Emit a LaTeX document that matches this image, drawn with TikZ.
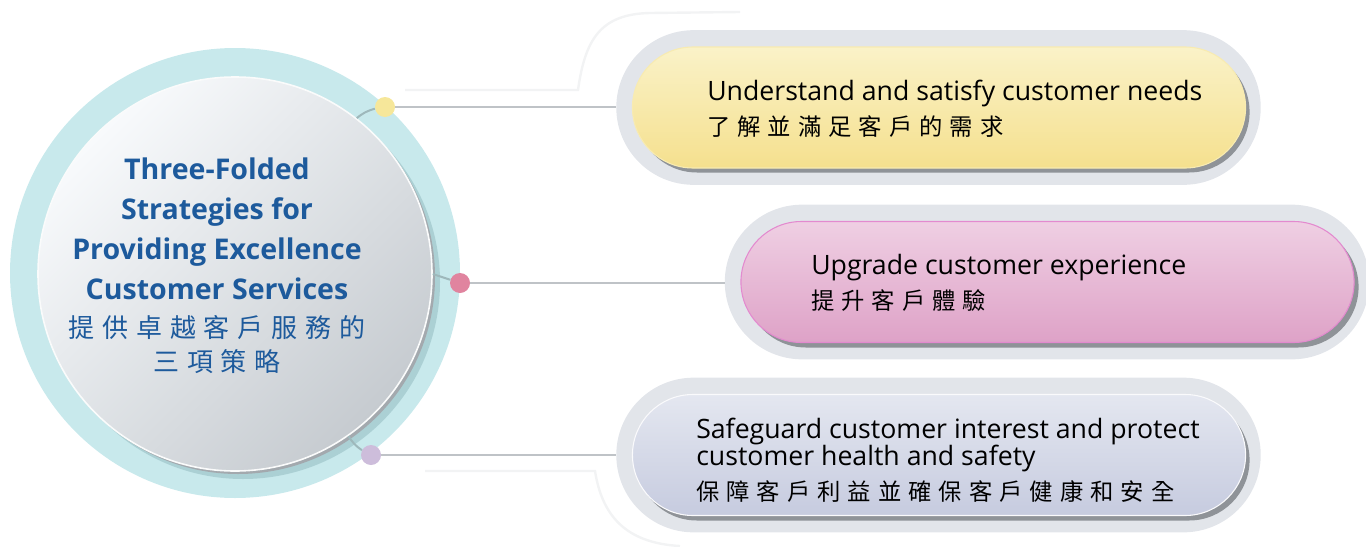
\documentclass[tikz,border=0pt]{standalone}
\usepackage{fontspec}
\setmainfont{Open Sans}
\newfontfamily\cjk[LetterSpace=30]{Noto Sans CJK TC}
\usetikzlibrary{shapes.misc,positioning}

\definecolor{ringteal}{HTML}{C8E9EC}
\definecolor{ringshade}{HTML}{ABD0D4}
\definecolor{hubtop}{HTML}{F8FAFC}
\definecolor{hubbot}{HTML}{C6CBD0}
\definecolor{hubrim}{HTML}{A3A9AE}
\definecolor{titleblue}{HTML}{1D5A9C}
\definecolor{halogray}{HTML}{E2E5EA}
\definecolor{shadowgray}{HTML}{8F9398}
\definecolor{linkgray}{HTML}{BFC3C7}
\definecolor{faintgray}{HTML}{F2F3F4}
\definecolor{dotyellow}{HTML}{F6E79A}
\definecolor{dotpink}{HTML}{E0849F}
\definecolor{dotlilac}{HTML}{CDBDDB}
\definecolor{yellowtop}{HTML}{FAF2C8}
\definecolor{yellowbot}{HTML}{F5E08E}
\definecolor{pinktop}{HTML}{EFCFE3}
\definecolor{pinkbot}{HTML}{DEA2C7}
\definecolor{lilactop}{HTML}{E4E7F0}
\definecolor{lilacbot}{HTML}{C6CBDF}

\begin{document}
\begin{tikzpicture}[x=0.75pt,y=-0.75pt,
    halo/.style={rounded rectangle, fill=halogray, minimum width=490pt, minimum height=116pt},
    pillshadow/.style={rounded rectangle, fill=shadowgray, minimum width=466.5pt, minimum height=90.75pt},
    pill/.style={rounded rectangle, minimum width=466.5pt, minimum height=90.75pt, line width=0.8pt},
    dot/.style={circle, minimum size=15pt, inner sep=0pt},
    link/.style={linkgray, line width=1.8pt},
    stub/.style={ringshade!70!gray, line width=1.5pt},
    faint/.style={faintgray, line width=1.8pt},
    boxtext/.style={anchor=west, align=left, font=\fontsize{20}{20.25}\selectfont, inner sep=0pt}
  ]
  \useasboundingbox (0,0) rectangle (1366,546);

  % faint guide lines
  \draw[faint] (405,90) -- (578,90) .. controls (585,40) and (600,14) .. (650,13) -- (740,12);
  \draw[faint] (425,471) -- (595,471) .. controls (602,515) and (625,543) .. (680,546);

  % hub
  \node[circle, fill=ringteal, minimum size=337.5pt, inner sep=0pt] (ring) at (235,273) {};
  \node[circle, fill=ringshade, minimum size=295.5pt, inner sep=0pt] at (243,282) {};
  \node[circle, fill=hubrim, minimum size=295.5pt, inner sep=0pt] at (238,277) {};
  \node[circle, draw=white!92!hubbot, line width=1.2pt, top color=hubtop, bottom color=hubbot,
        shading angle=45, minimum size=295.5pt, inner sep=0pt] (core) at (235,274) {};
  \node[align=center, text=titleblue, font=\bfseries\fontsize{21.4}{30}\selectfont] (ttl) at (217,266)
    {Three-Folded\\Strategies for\\Providing Excellence\\Customer Services\\[-2pt]
     {\cjk\mdseries\fontsize{19.5}{26}\selectfont 提供卓越客戶服務的}\\[-4pt]
     {\cjk\mdseries\fontsize{19.5}{26}\selectfont 三項策略}};

  % boxes
  \node[halo] (haloA) at (938.5,107.5) {};
  \node[halo] (haloB) at (1047,282) {};
  \node[halo] (haloC) at (938.5,455) {};
  \node[pillshadow] at (943,112) {};
  \node[pillshadow] at (1052,287) {};
  \node[pillshadow] at (943,460) {};
  \node[pill, draw=yellowtop!60!yellowbot, top color=yellowtop, bottom color=yellowbot] (boxA) at (939,107.5) {};
  \node[pill, draw=pinkbot!85!magenta, top color=pinktop, bottom color=pinkbot] (boxB) at (1047.5,282) {};
  \node[pill, draw=white!80!lilactop, top color=lilactop, bottom color=lilacbot] (boxC) at (939,455) {};

  \node[boxtext] (txtA) at (707,109) {Understand and satisfy customer needs\\[6pt]{\cjk\fontsize{17.5}{20}\selectfont 了解並滿足客戶的需求}};
  \node[boxtext] (txtB) at (811,283) {Upgrade customer experience\\[6pt]{\cjk\fontsize{17.5}{20}\selectfont 提升客戶體驗}};
  \node[boxtext] (txtC) at (696,460) {Safeguard customer interest and protect\\customer health and safety\\[6pt]{\cjk\fontsize{17.5}{20}\selectfont 保障客戶利益並確保客戶健康和安全}};

  % dots and links
  \node[dot, fill=dotyellow] (dotA) at (385,107) {};
  \node[dot, fill=dotpink] (dotB) at (460,283) {};
  \node[dot, fill=dotlilac] (dotC) at (371,455) {};
  \draw[stub] (core.52) to[bend left=12] (dotA);
  \draw[stub] (core.0) -- (dotB);
  \draw[stub] (core.-55) to[bend right=12] (dotC);
  \draw[link] (dotA.east) -- (dotA.east -| haloA.west);
  \draw[link] (dotB.east) -- (dotB.east -| haloB.west);
  \draw[link] (dotC.east) -- (dotC.east -| haloC.west);
\end{tikzpicture}
\end{document}
